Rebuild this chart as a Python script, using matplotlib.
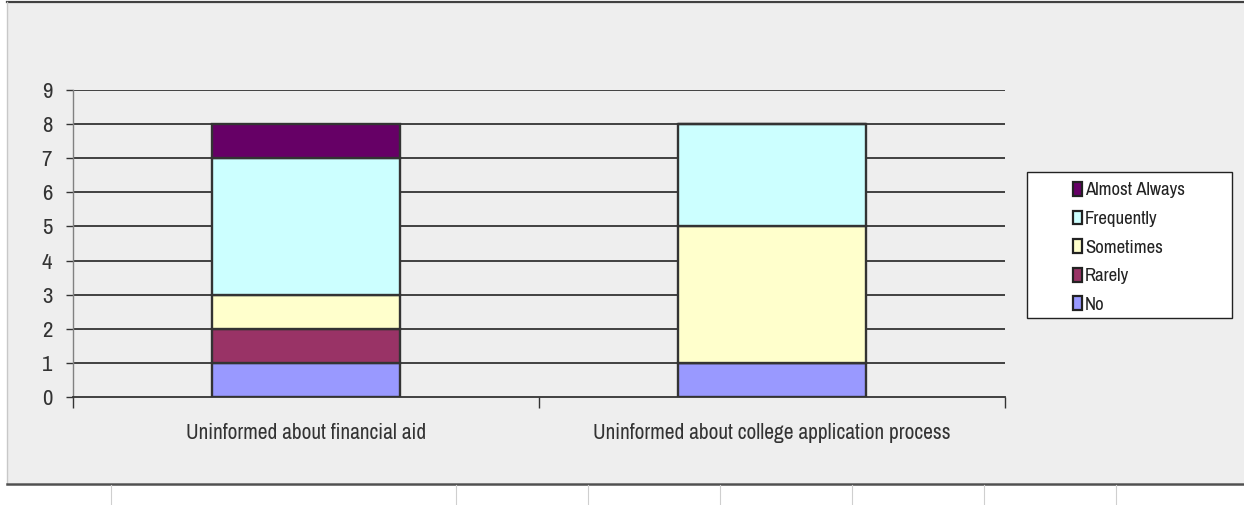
import matplotlib
matplotlib.use("Agg")
import matplotlib.pyplot as plt
from matplotlib.patches import Rectangle
from matplotlib.lines import Line2D

# ---- data ----
categories = ["Uninformed about financial aid", "Uninformed about college application process"]
series_names = ["No", "Rarely", "Sometimes", "Frequently", "Almost Always"]
no_vals = [1, 1]
rarely_vals = [1, 0]
sometimes_vals = [1, 4]
frequently_vals = [4, 3]
almost_always_vals = [1, 0]
y_ticks = [0, 1, 2, 3, 4, 5, 6, 7, 8, 9]

series_vals = [no_vals, rarely_vals, sometimes_vals, frequently_vals, almost_always_vals]
colors = ["#9999FF", "#993366", "#FFFFCC", "#CCFFFF", "#660066"]

plt.rcParams["font.family"] = ["Archivo Narrow", "Liberation Sans", "DejaVu Sans"]

W, H = 1244, 505
fig = plt.figure(figsize=(W / 100, H / 100), dpi=100, facecolor="white")

def fx(px):
    return px / W

def fy(py):
    return 1 - py / H

# panel background
fig.add_artist(Rectangle((fx(7), fy(483)), 1 - fx(7), fy(2) - fy(483),
                         transform=fig.transFigure, facecolor="#EEEEEE", edgecolor="none", zorder=0))
fig.add_artist(Line2D([fx(7), 1], [fy(2), fy(2)], transform=fig.transFigure, color="#404040", lw=1.6))
fig.add_artist(Line2D([fx(7), fx(7)], [fy(2), fy(483)], transform=fig.transFigure, color="#C8C8C8", lw=1.0))
fig.add_artist(Line2D([fx(7), 1], [fy(483.5), fy(483.5)], transform=fig.transFigure, color="#505050", lw=1.8))
for xp in [111, 456, 588, 720, 852, 984, 1116]:
    fig.add_artist(Line2D([fx(xp), fx(xp)], [fy(485), 0], transform=fig.transFigure, color="#CFCFCF", lw=0.8))

ax = fig.add_axes([fx(73), fy(397), fx(1005) - fx(73), fy(90) - fy(397)])
ax.patch.set_alpha(0)

x = list(range(len(categories)))
bottom = [0] * len(categories)
handles = []
for name, vals, c in zip(series_names, series_vals, colors):
    bc = ax.bar(x, vals, width=0.403, bottom=bottom, color=c, edgecolor="#333333",
                linewidth=1.7, label=name, zorder=3)
    handles.append(bc)
    bottom = [b + v for b, v in zip(bottom, vals)]

ax.set_xlim(-0.5, 1.5)
ax.set_ylim(0, 9)
ax.set_yticks(y_ticks)
ax.set_yticklabels([str(t) for t in y_ticks], fontsize=16.5, color="#333333")
ax.tick_params(axis="y", length=5, width=1.0, color="#333333", pad=10)
for t in y_ticks[1:]:
    ax.axhline(t, color="#333333", lw=1.3, zorder=1)

ax.set_xticks([-0.5, 0.5, 1.5])
ax.set_xticklabels(["", "", ""])
ax.set_xticks(x, minor=True)
ax.set_xticklabels(categories, minor=True, fontsize=15.4, color="#333333")
ax.tick_params(axis="x", which="major", length=8, width=1.0, color="#333333", direction="out")
ax.tick_params(axis="x", which="minor", length=0, pad=19)

for s in ["top", "right"]:
    ax.spines[s].set_visible(False)
ax.spines["left"].set_color("#808080")
ax.spines["left"].set_linewidth(1.0)
ax.spines["bottom"].set_color("#333333")
ax.spines["bottom"].set_linewidth(1.3)

# legend box
fig.add_artist(Rectangle((fx(1027), fy(318)), fx(1232) - fx(1027), fy(172) - fy(318),
                         transform=fig.transFigure, facecolor="white", edgecolor="#222222", lw=1.0, zorder=2))
leg = fig.legend(handles[::-1], series_names[::-1], loc="upper left",
                 bbox_to_anchor=(fx(1058), fy(167)), frameon=False, fontsize=13.5,
                 handlelength=0.5, handleheight=0.75, handletextpad=0.15,
                 labelspacing=0.65, borderpad=0.3)
for p in leg.get_patches():
    p.set_edgecolor("#222222")
    p.set_linewidth(1.6)
for t in leg.get_texts():
    t.set_color("#222222")
leg.set_zorder(5)

fig.savefig("out.png", dpi=100, facecolor="white")
